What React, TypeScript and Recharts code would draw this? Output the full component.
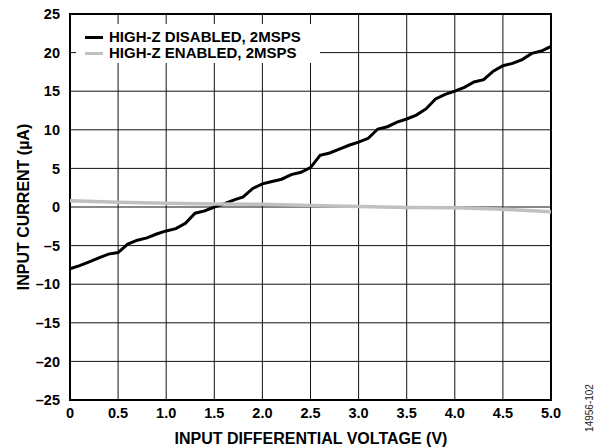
import { LineChart, Line, XAxis, YAxis, CartesianGrid, ReferenceArea } from 'recharts';

// input differential voltage (V)
const voltsDisabled = [
  0, 0.1, 0.2, 0.3, 0.4, 0.5, 0.6, 0.7, 0.8, 0.9, 1.0, 1.1, 1.2, 1.3, 1.4, 1.5, 1.6, 1.7, 1.8, 1.9,
  2.0, 2.1, 2.2, 2.3, 2.4, 2.5, 2.6, 2.7, 2.8, 2.9, 3.0, 3.1, 3.2, 3.3, 3.4, 3.5, 3.6, 3.7, 3.8, 3.9,
  4.0, 4.1, 4.2, 4.3, 4.4, 4.5, 4.6, 4.7, 4.8, 4.9, 5.0,
];
// input current (uA), high-Z disabled
const currentDisabled = [
  -8.0, -7.6, -7.1, -6.6, -6.1, -5.9, -4.8, -4.3, -4.0, -3.5, -3.1, -2.8, -2.1, -0.8, -0.5, 0.0, 0.4, 0.9, 1.3, 2.4,
  3.0, 3.3, 3.6, 4.2, 4.5, 5.1, 6.7, 7.0, 7.5, 8.0, 8.4, 8.9, 10.1, 10.4, 11.0, 11.4, 11.9, 12.7, 14.0, 14.6,
  15.0, 15.5, 16.2, 16.5, 17.6, 18.3, 18.6, 19.1, 19.9, 20.2, 20.8,
];

const voltsEnabled = [0, 0.5, 1.0, 1.5, 2.0, 2.5, 3.0, 3.5, 4.0, 4.5, 5.0];
const currentEnabled = [0.8, 0.6, 0.5, 0.4, 0.35, 0.2, 0.05, -0.05, -0.1, -0.3, -0.6];

const xTicks = [0, 0.5, 1.0, 1.5, 2.0, 2.5, 3.0, 3.5, 4.0, 4.5, 5.0];
const yTicks = [-25, -20, -15, -10, -5, 0, 5, 10, 15, 20, 25];

const disabledData = voltsDisabled.map((v, i) => ({ v, i: currentDisabled[i] }));
const enabledData = voltsEnabled.map((v, i) => ({ v, i: currentEnabled[i] }));

const FONT = '"Liberation Sans", Arial, sans-serif';
const BLACK = '#000000';
const GRAY = '#c0c0c0';

const tickStyle = { fontFamily: FONT, fontWeight: 700, fontSize: 14.5, fill: '#000' };

export default function App() {
  return (
    <div style={{ position: 'absolute', left: 0, top: 0, width: 598, height: 448, background: '#fff', fontFamily: FONT }}>
      <LineChart width={598} height={448} margin={{ top: 14, right: 47, bottom: 18, left: 0 }}>
        <CartesianGrid stroke="#111" strokeWidth={1} />
        <XAxis
          type="number"
          dataKey="v"
          domain={[0, 5]}
          ticks={xTicks}
          tickFormatter={(t: number) => (t === 0 ? '0' : t.toFixed(1))}
          tick={tickStyle}
          axisLine={false}
          tickLine={false}
          height={30}
          interval={0}
          allowDuplicatedCategory={false}
        />
        <YAxis
          type="number"
          domain={[-25, 25]}
          ticks={yTicks}
          tickFormatter={(t: number) => (t < 0 ? '\u2013' + Math.abs(t) : String(t))}
          tick={tickStyle}
          axisLine={false}
          tickLine={false}
          tickMargin={4}
          width={70}
          interval={0}
        />
        <ReferenceArea x1={0} x2={5} y1={-25} y2={25} fill="none" stroke="#000" strokeWidth={2} />
        <Line data={disabledData} dataKey="i" type="linear" stroke={BLACK} strokeWidth={3} dot={false} isAnimationActive={false} />
        <Line data={enabledData} dataKey="i" type="linear" stroke={GRAY} strokeWidth={3.5} dot={false} isAnimationActive={false} />
      </LineChart>

      {/* legend */}
      <div style={{ position: 'absolute', left: 76, top: 24, width: 244, height: 39, background: '#fff', fontWeight: 700, fontSize: 15, lineHeight: '16px' }}>
        <div style={{ display: 'flex', alignItems: 'center', marginTop: 5 }}>
          <span style={{ display: 'inline-block', width: 18, height: 3, background: BLACK, marginLeft: 9, marginRight: 6 }} />
          HIGH-Z DISABLED, 2MSPS
        </div>
        <div style={{ display: 'flex', alignItems: 'center' }}>
          <span style={{ display: 'inline-block', width: 18, height: 3, background: GRAY, marginLeft: 9, marginRight: 6 }} />
          HIGH-Z ENABLED, 2MSPS
        </div>
      </div>

      {/* axis titles */}
      <div style={{ position: 'absolute', left: 0, width: 622, top: 430, textAlign: 'center', fontWeight: 700, fontSize: 16, lineHeight: '18px' }}>
        INPUT DIFFERENTIAL VOLTAGE (V)
      </div>
      <div style={{ position: 'absolute', left: 24, top: 207, width: 300, marginLeft: -150, marginTop: -9, transform: 'rotate(-90deg)', textAlign: 'center', fontWeight: 700, fontSize: 16, lineHeight: '18px' }}>
        INPUT CURRENT (µA)
      </div>
      <div style={{ position: 'absolute', left: 590, top: 408, width: 80, marginLeft: -40, marginTop: -6, transform: 'rotate(-90deg)', textAlign: 'center', fontSize: 10, lineHeight: '12px', color: '#222' }}>
        14956-102
      </div>
    </div>
  );
}
